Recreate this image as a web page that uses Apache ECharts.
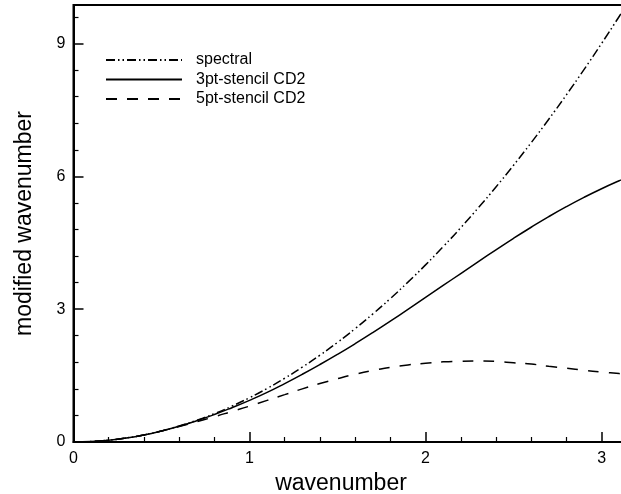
<!DOCTYPE html>
<html>
<head>
<meta charset="utf-8">
<script src="https://cdn.jsdelivr.net/npm/echarts@6/dist/echarts.min.js"></script>
<style>html,body{margin:0;padding:0;background:#fff;}#c{width:621px;height:494px;}</style>
</head>
<body>
<div id="c"></div>
<script>
const wavenumber = [0, 0.1, 0.2, 0.3, 0.4, 0.5, 0.6, 0.7, 0.8, 0.9, 1.0, 1.1, 1.2, 1.3, 1.4, 1.5, 1.6, 1.7, 1.8, 1.9, 2.0, 2.1, 2.2, 2.3, 2.4, 2.5, 2.6, 2.7, 2.8, 2.9, 3.0, 3.1, 3.1416];
const spectral = [0, 0.01, 0.04, 0.09, 0.16, 0.25, 0.36, 0.49, 0.64, 0.81, 1.0, 1.21, 1.44, 1.69, 1.96, 2.25, 2.56, 2.89, 3.24, 3.61, 4.0, 4.41, 4.84, 5.29, 5.76, 6.25, 6.76, 7.29, 7.84, 8.41, 9.0, 9.61, 9.87];
const cd2_3pt = [0, 0.01, 0.04, 0.09, 0.16, 0.25, 0.355, 0.48, 0.62, 0.775, 0.94, 1.12, 1.32, 1.53, 1.75, 1.98, 2.22, 2.47, 2.73, 2.995, 3.265, 3.535, 3.805, 4.075, 4.34, 4.60, 4.85, 5.09, 5.315, 5.525, 5.72, 5.90, 5.97];
const cd2_5pt = [0, 0.01, 0.04, 0.09, 0.16, 0.25, 0.35, 0.46, 0.57, 0.69, 0.81, 0.94, 1.07, 1.20, 1.32, 1.43, 1.53, 1.615, 1.685, 1.74, 1.78, 1.81, 1.825, 1.83, 1.82, 1.79, 1.76, 1.71, 1.665, 1.62, 1.58, 1.545, 1.53];
const seriesNames = ['spectral', '3pt-stencil CD2', '5pt-stencil CD2'];
const xTickValues = [0, 1, 2, 3];
const yTickValues = [0, 3, 6, 9];

const pairs = arr => wavenumber.map((k, i) => [k, arr[i]]);
const font = 'Liberation Sans, Arial, Helvetica, sans-serif';
const chart = echarts.init(document.getElementById('c'), null, {renderer: 'canvas'});
chart.setOption({
  animation: false,
  backgroundColor: '#fff',
  grid: {left: 73.5, right: -5.5, top: 5, bottom: 52, containLabel: false, outerBoundsMode: 'none',
    show: true, borderColor: '#000', borderWidth: 2, backgroundColor: 'transparent'},
  legend: {
    orient: 'vertical', left: 105, top: 52, padding: 0, itemWidth: 76, itemHeight: 14, itemGap: 3.5,
    data: seriesNames,
    textStyle: {fontFamily: font, fontSize: 16, color: '#000', padding: [0, 0, 0, 9]},
    itemStyle: {opacity: 0}
  },
  xAxis: {
    type: 'value', min: 0, max: Math.PI, interval: 1,
    name: 'wavenumber', nameLocation: 'middle', nameGap: 27,
    nameTextStyle: {fontFamily: font, fontSize: 23, color: '#000', padding: [0, 18, 0, 0]},
    axisLine: {lineStyle: {color: '#000', width: 2}},
    axisTick: {inside: true, length: 10, lineStyle: {color: '#000', width: 1.5}},
    minorTick: {show: true, splitNumber: 5, length: 5, lineStyle: {color: '#000', width: 1.2}},
    axisLabel: {fontFamily: font, fontSize: 16, color: '#000', margin: 9, showMaxLabel: false,
      formatter: v => xTickValues.includes(v) ? String(v) : ''},
    splitLine: {show: false}
  },
  yAxis: {
    type: 'value', min: 0, max: 9.8696, interval: 3,
    name: 'modified wavenumber', nameLocation: 'middle', nameGap: 37,
    nameTextStyle: {fontFamily: font, fontSize: 23, color: '#000'},
    axisLine: {lineStyle: {color: '#000', width: 2}},
    axisTick: {inside: true, length: 10, lineStyle: {color: '#000', width: 1.5}},
    minorTick: {show: true, splitNumber: 5, length: 5, lineStyle: {color: '#000', width: 1.2}},
    axisLabel: {fontFamily: font, fontSize: 16, color: '#000', margin: 8, showMaxLabel: false,
      formatter: v => yTickValues.includes(v) ? String(v) : ''},
    splitLine: {show: false}
  },
  series: [
    {name: seriesNames[0], type: 'line', symbol: 'none', smooth: true, data: pairs(spectral),
      lineStyle: {color: '#000', width: 1.5, type: [9, 3, 1.5, 3, 1.5, 3]}, itemStyle: {color: '#000'}},
    {name: seriesNames[1], type: 'line', symbol: 'none', smooth: true, data: pairs(cd2_3pt),
      lineStyle: {color: '#000', width: 1.5, type: 'solid'}, itemStyle: {color: '#000'}},
    {name: seriesNames[2], type: 'line', symbol: 'none', smooth: true, data: pairs(cd2_5pt),
      lineStyle: {color: '#000', width: 1.5, type: [11, 10]}, itemStyle: {color: '#000'}}
  ]
});
</script>
</body>
</html>
